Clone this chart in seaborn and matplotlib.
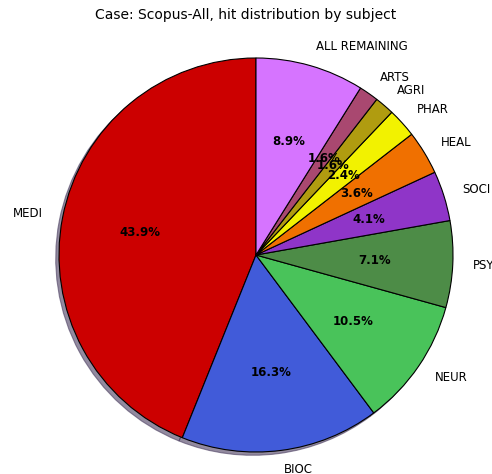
import matplotlib
matplotlib.use("Agg")
import matplotlib.pyplot as plt
import seaborn as sns

sns.set_style("white")
plt.rcParams["text.color"] = "black"

# Data
subjects = ["MEDI", "BIOC", "NEUR", "PSY", "SOCI", "HEAL", "PHAR", "AGRI", "ARTS", "ALL REMAINING"]
shares = [43.9, 16.3, 10.5, 7.1, 4.1, 3.6, 2.4, 1.6, 1.6, 8.9]
colors = ["#cc0000", "#415bd9", "#49c35a", "#4d8c47", "#8f35c8",
          "#f07000", "#f2f200", "#b09c10", "#a94870", "#d674ff"]

fig = plt.figure(figsize=(4.92, 4.74), dpi=100)
ax = fig.add_axes([0, 0, 1, 1])

wedges, texts, autotexts = ax.pie(
    shares, labels=subjects, colors=colors, autopct="%1.1f%%",
    startangle=90,
    shadow={"ox": -0.012, "oy": -0.012, "facecolor": "#4a3d60",
            "edgecolor": "#4a3d60", "alpha": 0.6},
    labeldistance=1.1, pctdistance=0.6,
    wedgeprops={"edgecolor": "black", "linewidth": 0.8},
    textprops={"fontsize": 8.5, "color": "black"},
)
for t in autotexts:
    t.set_fontweight("bold")

r = 197.0
ax.set_aspect("equal")
ax.set_xlim(-256 / r, (492 - 256) / r)
ax.set_ylim(-(474 - 255) / r, 255 / r)
ax.axis("off")

fig.suptitle("Case: Scopus-All, hit distribution by subject", y=1 - 15 / 474,
             va="center", fontsize=10, color="black")

fig.savefig("out.png", dpi=100)
